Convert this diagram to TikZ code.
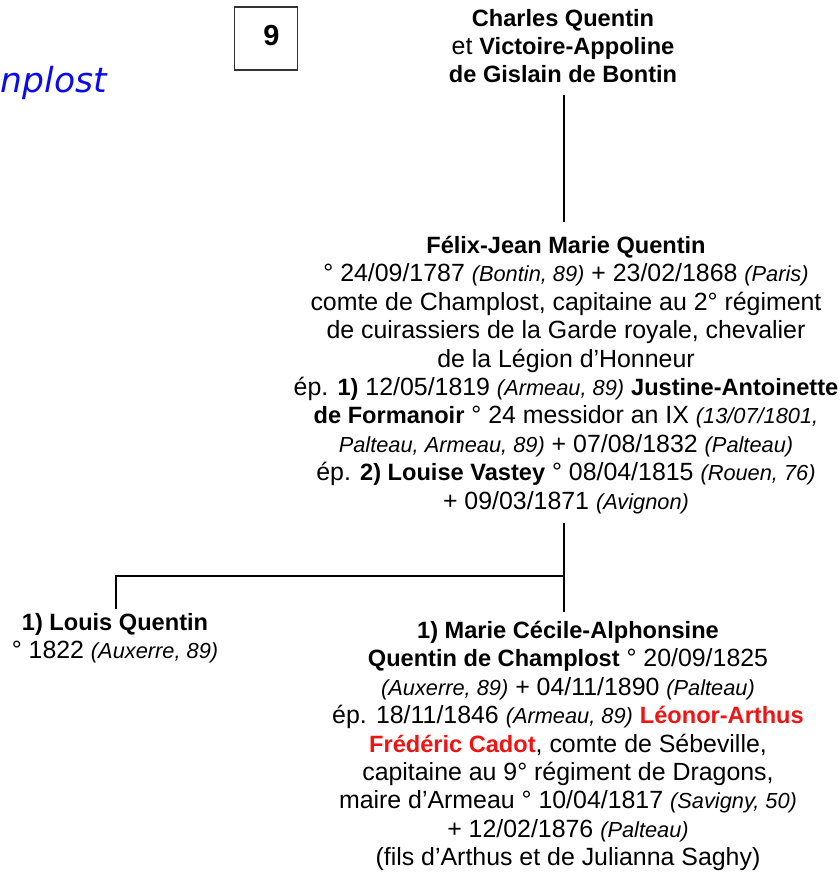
\documentclass[tikz,border=0pt]{standalone}
\usepackage{fontspec}
\setmainfont{Liberation Sans}
\newfontfamily\titlefont{DejaVu Sans}
\definecolor{titleblue}{RGB}{10,10,240}
\definecolor{cadotred}{RGB}{238,20,20}
\newcommand\pl[1]{{\fontsize{21.8}{28.4}\selectfont\itshape #1}}
\newcommand\bd[1]{{\fontsize{23.6}{28.4}\selectfont\bfseries #1}}
\tikzset{
  person/.style={align=center, inner sep=0pt, font=\fontsize{24.9}{28.4}\selectfont},
  link/.style={line width=2.8pt, black},
}
\begin{document}
\begin{tikzpicture}[x=1pt,y=1pt]
\useasboundingbox (0,0) rectangle (840,876);
\node[text=titleblue, font=\titlefont\fontsize{34.5}{40}\selectfont\itshape, anchor=base west, inner sep=0pt] (title) at (0.5,783) {nplost};
\node[draw=black!80, line width=1.2pt, minimum width=63, minimum height=63, inner sep=0pt] (nine) at (266,837.5) {};
\node[font=\fontsize{29}{30}\selectfont\bfseries, inner sep=0pt] (ninetxt) at (271.5,840) {9};
\node[person] (top) at (563,830) {\bd{Charles Quentin}\\ et \bd{Victoire-Appoline}\\ \bd{de Gislain de Bontin}};
\node[person] (felix) at (566,501) {\bd{Félix-Jean Marie Quentin}\\
° 24/09/1787 \pl{(Bontin, 89)} + 23/02/1868 \pl{(Paris)}\\
comte de Champlost, capitaine au 2° régiment\\
de cuirassiers de la Garde royale, chevalier\\
de la Légion d’Honneur\\
ép. \bd{1)} 12/05/1819 \pl{(Armeau, 89)} \bd{Justine-Antoinette}\\
\bd{de Formanoir} ° 24 messidor an IX \pl{(13/07/1801,}\\
\pl{Palteau, Armeau, 89)} + 07/08/1832 \pl{(Palteau)}\\
ép. \bd{2) Louise Vastey} ° 08/04/1815 \pl{(Rouen, 76)}\\
+ 09/03/1871 \pl{(Avignon)}};
\node[person] (louis) at (115,238) {\bd{1) Louis Quentin}\\ ° 1822 \pl{(Auxerre, 89)}};
\node[person] (marie) at (568,130) {\bd{1) Marie Cécile-Alphonsine}\\
\bd{Quentin de Champlost} ° 20/09/1825\\
\pl{(Auxerre, 89)} + 04/11/1890 \pl{(Palteau)}\\
ép. 18/11/1846 \pl{(Armeau, 89)} \textcolor{cadotred}{\bd{Léonor-Arthus}}\\
\textcolor{cadotred}{\bd{Frédéric Cadot}}, comte de Sébeville,\\
capitaine au 9° régiment de Dragons,\\
maire d’Armeau ° 10/04/1817 \pl{(Savigny, 50)}\\
+ 12/02/1876 \pl{(Palteau)}\\
(fils d’Arthus et de Julianna Saghy)};
\coordinate (j) at (564,300);
\coordinate (jl) at (116,300);
\draw[line width=2pt] (564,781) coordinate (ts) -- (564,654) coordinate (fn);
\draw[link] (564,353) coordinate (fs) -- (j) -- (564,264) coordinate (mn);
\draw[link] (j) -- (jl) -- (116,267) coordinate (ln);
\end{tikzpicture}
\end{document}
